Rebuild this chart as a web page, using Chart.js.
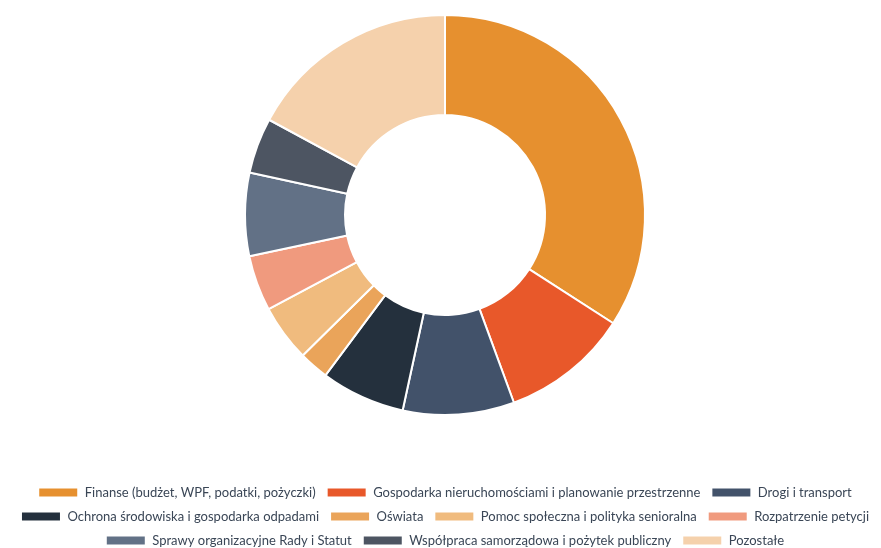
<!DOCTYPE html>
<html>
<head>
<meta charset="utf-8">
<script src="https://cdn.jsdelivr.net/npm/chart.js@4/dist/chart.umd.min.js"></script>
<style>
  html, body { margin: 0; padding: 0; background: #ffffff; }
  #wrap { width: 881px; height: 548px; position: relative; }
</style>
</head>
<body>
<div id="wrap"><canvas id="c"></canvas></div>
<script>
const categories = [
  "Finanse (budżet, WPF, podatki, pożyczki)",
  "Gospodarka nieruchomościami i planowanie przestrzenne",
  "Drogi i transport",
  "Ochrona środowiska i gospodarka odpadami",
  "Oświata",
  "Pomoc społeczna i polityka senioralna",
  "Rozpatrzenie petycji",
  "Sprawy organizacyjne Rady i Statut",
  "Współpraca samorządowa i pożytek publiczny",
  "Pozostałe"
];
const shares = [34.1, 10.3, 9.0, 6.8, 2.4, 4.6, 4.5, 6.7, 4.5, 17.1];
const colors = ["#E6902F", "#E8582A", "#42526A", "#24303D", "#EAA45A", "#F0BB7E", "#F09A7E", "#627186", "#4D5562", "#F5D1AC"];

new Chart(document.getElementById('c'), {
  type: 'doughnut',
  data: {
    labels: categories,
    datasets: [{
      data: shares,
      backgroundColor: colors,
      borderColor: '#ffffff',
      borderWidth: 2,
      radius: 200,
      cutout: '50%'
    }]
  },
  options: {
    responsive: true,
    maintainAspectRatio: false,
    animation: false,
    layout: { padding: { left: 9, top: 0, right: 0, bottom: -9 } },
    plugins: {
      tooltip: { enabled: false },
      legend: {
        position: 'bottom',
        align: 'center',
        title: { display: true, text: '', font: { size: 10, lineHeight: 1 }, padding: { top: 35, bottom: 0 } },
        labels: {
          boxWidth: 40,
          boxHeight: 10,
          padding: 11,
          color: '#3a4656',
          font: { family: 'Lato', size: 13 }
        }
      }
    }
  }
});
</script>
</body>
</html>
